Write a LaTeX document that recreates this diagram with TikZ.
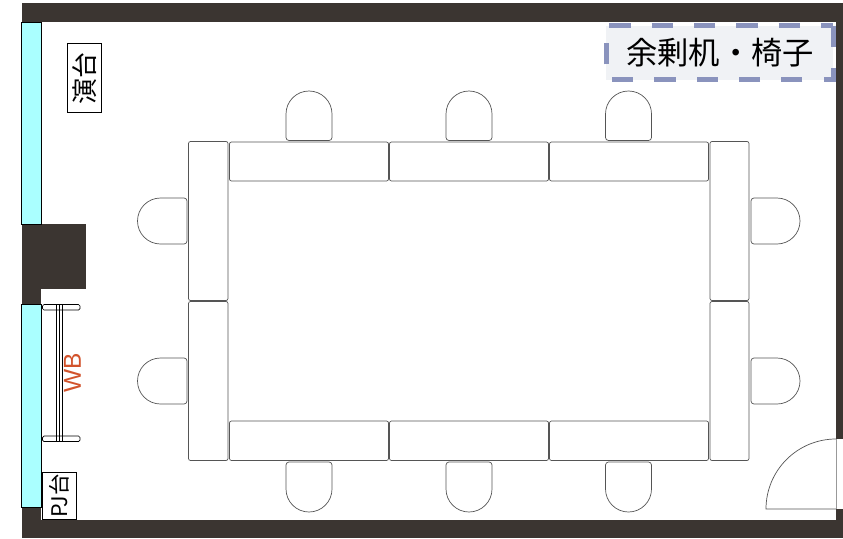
\documentclass[tikz,border=0pt]{standalone}
\usepackage{fontspec}
\setmainfont{Liberation Sans}
\newfontfamily\jp{Noto Sans CJK JP}
\definecolor{wall}{HTML}{3B3531}
\definecolor{glass}{HTML}{AAFFFF}
\definecolor{dashc}{HTML}{8A93BD}
\definecolor{panel}{HTML}{F0F2F5}
\definecolor{wbc}{HTML}{D2532C}
\definecolor{furn}{HTML}{555555}
\tikzset{
  wallfill/.style={fill=wall,draw=none},
  windowpane/.style={fill=glass,draw=black,line width=0.7pt},
  tablebox/.style={draw=furn,fill=white,line width=0.7pt,rounded corners=2pt},
  seat/.style={draw=furn,fill=white,line width=0.7pt},
  signbox/.style={draw=black,fill=white,line width=0.7pt,inner sep=0pt,rotate=90,font=\jp},
  wbfoot/.style={draw=black,fill=white,line width=0.7pt,rounded corners=1.5pt},
}
\newcommand{\seatup}[2]{% centre x, bottom y (dome up)
  \draw[seat] (#1-20,#2) -- ++(40,0) arc[start angle=90,end angle=0,radius=3] -- (#1+23,#2-26.5) arc[start angle=0,end angle=-180,radius=23] -- (#1-23,#2-3) arc[start angle=180,end angle=90,radius=3] -- cycle;}
\newcommand{\seatdown}[2]{% centre x, top y (dome down)
  \draw[seat] (#1-20,#2) -- ++(40,0) arc[start angle=-90,end angle=0,radius=3] -- (#1+23,#2+27) arc[start angle=0,end angle=180,radius=23] -- (#1-23,#2+3) arc[start angle=180,end angle=270,radius=3] -- cycle;}
\newcommand{\seatleft}[2]{% right x, centre y (dome left)
  \draw[seat] (#1,#2-20) -- ++(0,40) arc[start angle=0,end angle=90,radius=3] -- (#1-26.5,#2+23) arc[start angle=90,end angle=270,radius=23] -- (#1-3,#2-23) arc[start angle=-90,end angle=0,radius=3] -- cycle;}
\newcommand{\seatright}[2]{% left x, centre y (dome right)
  \draw[seat] (#1,#2-20) -- ++(0,40) arc[start angle=180,end angle=90,radius=3] -- (#1+26,#2+23) arc[start angle=90,end angle=-90,radius=23] -- (#1+3,#2-23) arc[start angle=-90,end angle=-180,radius=3] -- cycle;}
\begin{document}
\begin{tikzpicture}[x=1pt,y=-1pt]
\useasboundingbox (0,0) rectangle (843,538);
\fill[white] (0,0) rectangle (843,538);
% walls
\fill[wallfill] (21.5,2.5) rectangle (843,22);
\fill[wallfill] (21.5,519.5) rectangle (843,538);
\fill[wallfill] (836,2.5) rectangle (843,439);
\fill[wallfill] (836,509) rectangle (843,538);
\fill[wallfill] (21.5,224) rectangle (86,289);
\fill[wallfill] (21.5,289) rectangle (41,304.5);
\fill[wallfill] (21.5,507) rectangle (41,538);
% windows
\draw[windowpane] (21.8,22) rectangle (41,224.5);
\draw[windowpane] (21.8,304.5) rectangle (41,507);
% spare panel
\fill[panel] (606,25.5) rectangle (833,79.5);
\draw[dashc,line width=5pt,dash pattern=on 21.2pt off 21.1pt] (833,25.5) -- (833,79.5) -- (606,79.5) -- (606,25.5) -- cycle;
\node[font=\jp\fontsize{31.3}{31.3}\selectfont,inner sep=0pt] (spare) at (720,53) {余剰机・椅子};
% tables
\draw[tablebox] (229.5,142) rectangle (388.5,181);
\draw[tablebox] (389.5,142) rectangle (548.5,181);
\draw[tablebox] (549.5,142) rectangle (708.5,181);
\draw[tablebox] (229.5,421) rectangle (388.5,460.5);
\draw[tablebox] (389.5,421) rectangle (548.5,460.5);
\draw[tablebox] (549.5,421) rectangle (708.5,460.5);
\draw[tablebox] (188.5,141.5) rectangle (228,300.5);
\draw[tablebox] (188.5,301.5) rectangle (228,460.5);
\draw[tablebox] (710,141.5) rectangle (749,300.5);
\draw[tablebox] (710,301.5) rectangle (749,460.5);
% chairs
\seatup{309}{140.5}\seatup{469}{140.5}\seatup{628.5}{140.5}
\seatdown{309}{462}\seatdown{469}{462}\seatdown{628.5}{462}
\seatleft{187}{221}\seatleft{187}{381}
\seatright{751}{221}\seatright{751}{381}
% whiteboard
\draw[wbfoot] (42.5,304.5) rectangle (80,310);
\draw[wbfoot] (42.5,436) rectangle (80,441.5);
\draw[black,line width=0.6pt] (56.3,304.5) -- (56.3,441.5) (59.5,304.5) -- (59.5,441.5) (62.3,304.5) -- (62.3,441.5);
\node[rotate=90,text=wbc,font=\fontsize{24.5}{24.5}\selectfont,inner sep=0pt] (wb) at (72.5,373) {WB};
% signs
\node[signbox,minimum width=69pt,minimum height=34pt,font=\jp\fontsize{26}{26}\selectfont] (podium) at (84.5,78) {演台};
\node[signbox,minimum width=46.5pt,minimum height=34pt,font=\jp\fontsize{21.5}{21.5}\selectfont] (pj) at (59,496) {PJ台};
% door
\fill[white] (836,439) rectangle (843,509);
\draw[furn,line width=0.7pt] (836,439) arc[start angle=-90,end angle=-180,radius=70] -- (836,509);
\draw[black!40,line width=1pt] (836,439) -- (836,509);
\end{tikzpicture}
\end{document}
